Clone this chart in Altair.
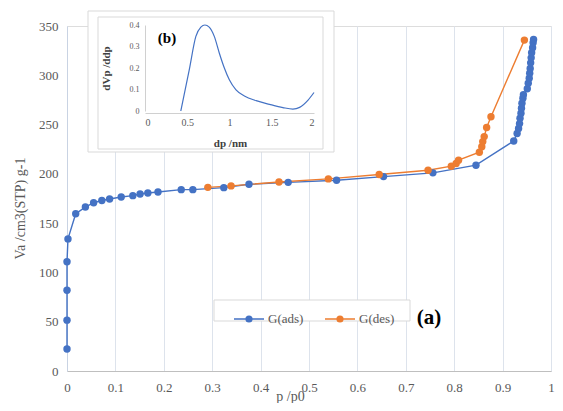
import altair as alt
import pandas as pd

# ---------------- data ----------------
ads_p = [0.0, 0.0, 0.0, 0.0, 0.002, 0.018, 0.038, 0.055, 0.072, 0.088, 0.112, 0.136,
         0.151, 0.167, 0.188, 0.236, 0.26, 0.324, 0.376, 0.457, 0.557, 0.654, 0.756,
         0.845, 0.923, 0.930, 0.933, 0.935, 0.936, 0.938, 0.939, 0.940, 0.942, 0.943,
         0.951, 0.953, 0.955, 0.956, 0.957, 0.958, 0.959, 0.960, 0.962, 0.963, 0.964]
ads_v = [22.4, 51.6, 82.0, 110.8, 134.0, 159.5, 166.3, 170.7, 173.0, 174.5, 176.5, 177.9,
         179.6, 180.6, 181.6, 184.0, 184.0, 186.0, 189.4, 191.4, 193.5, 197.2, 201.0,
         208.8, 233.3, 241.0, 246.0, 251.0, 256.4, 261.5, 266.6, 271.7, 276.8, 280.2,
         286.3, 292.0, 297.0, 302.0, 307.0, 312.6, 317.7, 322.8, 327.9, 333.0, 336.3]

des_p = [0.291, 0.339, 0.438, 0.540, 0.645, 0.746, 0.794, 0.804, 0.809, 0.852,
         0.857, 0.859, 0.862, 0.867, 0.876, 0.945]
des_v = [186.3, 187.8, 191.8, 194.9, 199.3, 203.7, 207.8, 210.5, 213.9, 222.0,
         227.6, 232.7, 237.8, 247.0, 258.0, 335.7]

psd_dp = [0.424, 0.523, 0.602, 0.661, 0.709, 0.76, 0.82, 0.879, 0.939, 0.998, 1.077,
          1.176, 1.315, 1.473, 1.632, 1.75, 1.83, 1.93, 2.0]
psd_dv = [0.0, 0.19, 0.347, 0.39, 0.40, 0.39, 0.347, 0.27, 0.20, 0.145, 0.098,
          0.07, 0.048, 0.031, 0.016, 0.009, 0.017, 0.051, 0.086]

series_names = ["G(ads)", "G(des)"]
series_colors = ["#4472C4", "#ED7D31"]

x_ticks = [0, 0.1, 0.2, 0.3, 0.4, 0.5, 0.6, 0.7, 0.8, 0.9, 1]
y_ticks = [0, 50, 100, 150, 200, 250, 300, 350]
inset_x_ticks = [0, 0.5, 1, 1.5, 2]
inset_y_ticks = [0, 0.1, 0.2, 0.3, 0.4]

label_a = {"p": [0.748], "v": [54.0], "t": ["(a)"]}
label_b = {"dp": [0.26], "dv": [0.34], "t": ["(b)"]}

# ---------------- build ----------------
SERIF = "'Liberation Serif', 'Times New Roman', serif"
GREY = "#595959"

main_df = pd.DataFrame({
    "p": ads_p + des_p,
    "v": ads_v + des_v,
    "series": [series_names[0]] * len(ads_p) + [series_names[1]] * len(des_p),
    "idx": list(range(len(ads_p))) + list(range(len(des_p))),
})
psd_df = pd.DataFrame({"dp": psd_dp, "dv": psd_dv})
one = pd.DataFrame({"k": [0]})

xs = alt.Scale(domain=[0, 1], nice=False, zero=False)
ys = alt.Scale(domain=[0, 350], nice=False)

x_main = alt.X("p:Q", scale=xs, axis=alt.Axis(
    values=x_ticks, format="~g", grid=True, gridColor="#dde3ec", ticks=False,
    domainColor="#bfbfbf", labelFont=SERIF, labelFontSize=13, labelColor=GREY,
    labelPadding=10, labelFlush=False, title="p /p0", titleFont=SERIF, titleFontSize=14,
    titleFontWeight="normal", titleColor=GREY, titleX=223, titleY=25,
    titleBaseline="middle"))
y_main = alt.Y("v:Q", scale=ys, axis=alt.Axis(
    values=y_ticks, grid=False, ticks=False, domainColor="#c9d3e3",
    labelFont=SERIF, labelFontSize=13, labelColor=GREY, labelPadding=9,
    title="Va /cm3(STP) g-1", titleFont=SERIF, titleFontSize=14,
    titleFontWeight="normal", titleColor=GREY, titleX=-47, titleY=182,
    titleBaseline="middle"))

legend_symbol = ("M-1,0L1,0"
                 "M-0.05,0a0.05,0.05 0 1,0 0.1,0a0.05,0.05 0 1,0 -0.1,0"
                 "M-0.12,0a0.12,0.12 0 1,0 0.24,0a0.12,0.12 0 1,0 -0.24,0"
                 "M-0.19,0a0.19,0.19 0 1,0 0.38,0a0.19,0.19 0 1,0 -0.38,0")

lines = alt.Chart(main_df).mark_line(strokeWidth=1.4).encode(
    x=x_main, y=y_main,
    color=alt.Color("series:N", scale=alt.Scale(domain=series_names, range=series_colors),
                    legend=alt.Legend(orient="none", legendX=166, legendY=277,
                                      direction="horizontal", title=None,
                                      symbolType=legend_symbol, symbolSize=900,
                                      symbolStrokeWidth=1.5, labelFont=SERIF,
                                      labelFontSize=13, labelColor=GREY,
                                      labelOffset=3, columnPadding=18, padding=0)),
    order="idx:Q",
    detail="series:N",
)
points = alt.Chart(main_df).mark_circle(size=55, opacity=1).encode(
    x="p:Q", y="v:Q",
    fill=alt.Fill("series:N", scale=alt.Scale(domain=series_names, range=series_colors),
                  legend=None),
)
legend_box = alt.Chart(one).mark_rect(fill="white", stroke="#d9d9d9", strokeWidth=1).encode(
    x=alt.value(147), x2=alt.value(343), y=alt.value(274), y2=alt.value(295))
a_text = alt.Chart(pd.DataFrame(label_a)).mark_text(
    font=SERIF, fontSize=21, fontWeight="bold", color="black").encode(
    x="p:Q", y="v:Q", text="t:N")

main = alt.layer(lines, points, legend_box, a_text)

# inset
frame_outer = alt.Chart(one).mark_rect(fill="white", stroke="#d9d9d9", strokeWidth=1).encode(
    x=alt.value(21), x2=alt.value(267), y=alt.value(-15), y2=alt.value(126))
frame_inner = alt.Chart(one).mark_rect(fill="white", stroke="#d9d9d9", strokeWidth=1).encode(
    x=alt.value(31), x2=alt.value(256), y=alt.value(-9), y2=alt.value(123))

ix = alt.Scale(domain=[0, 2], range=[78, 247], nice=False, zero=False)
iy = alt.Scale(domain=[0, 0.4], range=[85, -1], nice=False)

curve = alt.Chart(psd_df).mark_line(color="#4472C4", strokeWidth=1.2, interpolate="monotone").encode(
    x=alt.X("dp:Q", scale=ix, axis=alt.Axis(
        orient="bottom", offset=-258, values=inset_x_ticks, format="~g", grid=False,
        ticks=False, domainColor="#d0d0d0", labelFont=SERIF, labelFontSize=10,
        labelColor=GREY, labelPadding=4, title="dp /nm", titleFont=SERIF,
        titleFontSize=11, titleFontWeight="bold", titleColor="#404040",
        titleX=163, titleY=30, titleBaseline="middle", zindex=1)),
    y=alt.Y("dv:Q", scale=iy, axis=alt.Axis(
        orient="left", offset=-78, values=inset_y_ticks, format="~g", grid=False,
        ticks=False, domainColor="#d0d0d0", labelFont=SERIF, labelFontSize=8,
        labelColor=GREY, labelPadding=6, title="dVp /ddp", titleFont=SERIF,
        titleFontSize=11, titleFontWeight="bold", titleColor="#404040",
        titleX=-39, titleY=42, titleBaseline="middle", zindex=1)),
)
b_text = alt.Chart(pd.DataFrame(label_b)).mark_text(
    font=SERIF, fontSize=15, fontWeight="bold", color="black").encode(
    x=alt.X("dp:Q", scale=ix), y=alt.Y("dv:Q", scale=iy), text="t:N")

inset = alt.layer(frame_outer, frame_inner, curve, b_text)

chart = alt.layer(main, inset).resolve_scale(
    x="independent", y="independent"
).properties(
    width=547, height=395,
    autosize=alt.AutoSizeParams(type="fit", contains="padding"),
    padding={"left": 5, "top": 2, "right": 0, "bottom": 0},
).configure_view(stroke=None).configure(background="white")

chart.save("out.html", embed_options={"renderer": "svg", "actions": False})
